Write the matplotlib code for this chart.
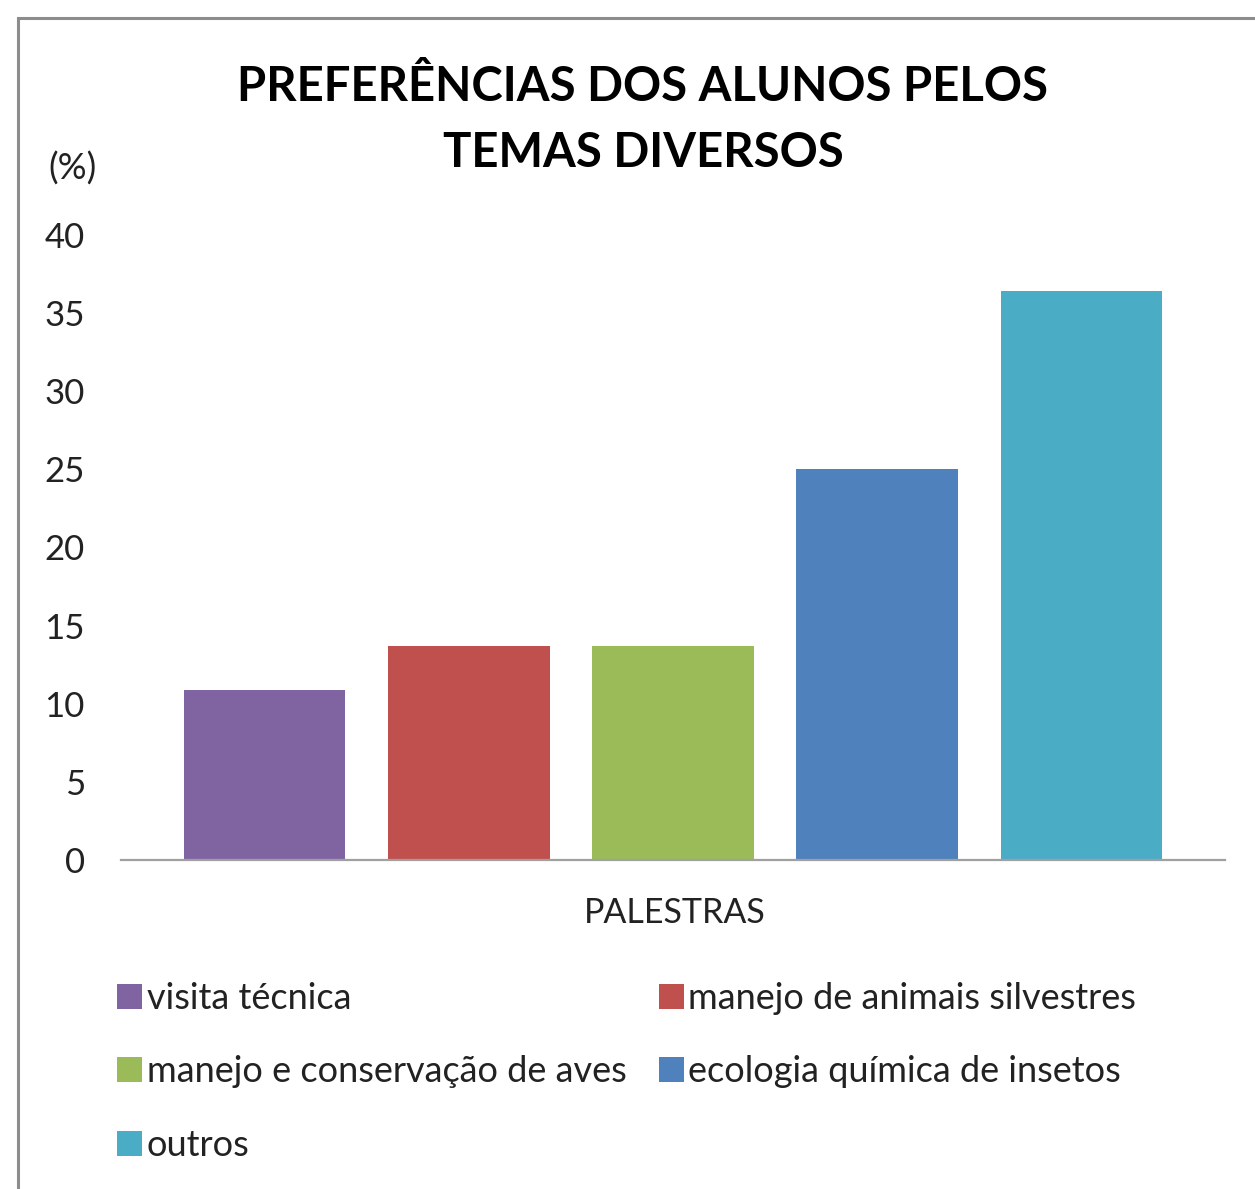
import matplotlib
matplotlib.use('Agg')
import matplotlib.pyplot as plt
from matplotlib.patches import Rectangle, Patch

# data
categories = ['visita técnica', 'manejo de animais silvestres',
              'manejo e conservação de aves', 'ecologia química de insetos',
              'outros']
values = [10.9, 13.7, 13.7, 25.0, 36.4]
colors = ['#8064A2', '#C0504D', '#9BBB59', '#4F81BD', '#4BACC6']
yticks = [0, 5, 10, 15, 20, 25, 30, 35, 40]

plt.rcParams['font.family'] = ['Lato', 'DejaVu Sans']

W, H = 1255, 1189
fig = plt.figure(figsize=(W / 100, H / 100), dpi=100)

# outer frame (cut at right / bottom like the reference)
fig.patches.append(Rectangle((18 / W, -0.1), 1.2, 1 - 18 / H + 0.1,
                             transform=fig.transFigure, fill=False,
                             edgecolor='#8c8c8c', linewidth=2.2))

ax = fig.add_axes([121 / W, (H - 860) / H, 1104 / W, 625 / H])
for i, (c, v, col) in enumerate(zip(categories, values, colors)):
    ax.bar(i, v, width=0.79, color=col, label=c)

ax.set_xlim(-0.705, 4.705)
ax.set_ylim(0, 40)
ax.set_yticks(yticks)
ax.set_xticks([])
for s in ['top', 'right', 'left']:
    ax.spines[s].set_visible(False)
ax.spines['bottom'].set_color('#a0a0a0')
ax.spines['bottom'].set_linewidth(1.6)
ax.tick_params(axis='y', length=0, pad=26, labelsize=25, labelcolor='#222222')

fig.text(643 / W, 1 - 120 / H, 'PREFERÊNCIAS DOS ALUNOS PELOS\nTEMAS DIVERSOS',
         ha='center', va='center', fontsize=34, fontweight='bold',
         linespacing=1.6, color='black')
fig.text(73 / W, 1 - 169 / H, '(%)', ha='center', va='center', fontsize=26,
         color='#222222')
fig.text(675 / W, 1 - 913 / H, 'PALESTRAS', ha='center', va='center',
         fontsize=24.5, color='#222222')

# legend filled row by row (matplotlib fills column by column)
order = [0, 2, 4, 1, 3]
handles = [Patch(facecolor=colors[k]) for k in order]
labels = [categories[k] for k in order]
fig.legend(handles, labels, ncol=2, loc='upper left',
           bbox_to_anchor=(117 / W, 1 - 982 / H), frameon=False,
           fontsize=26, handlelength=0.7, handleheight=0.7,
           handletextpad=0.12, columnspacing=0.9, labelspacing=1.12,
           borderaxespad=0, borderpad=0, labelcolor='#222222')

fig.savefig('out.png', dpi=100)
